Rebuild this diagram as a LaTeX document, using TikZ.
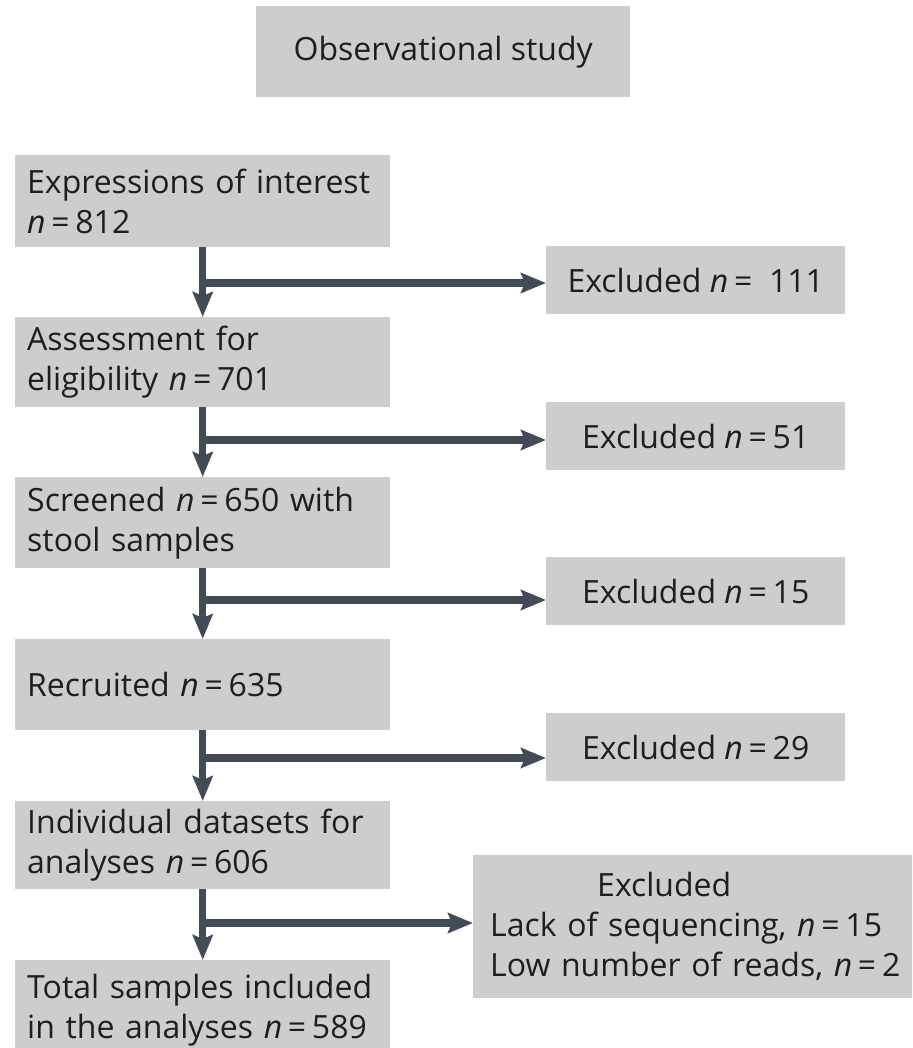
\documentclass[tikz,border=0pt]{standalone}
\usepackage{fontspec}
\setmainfont{Open Sans}
\usetikzlibrary{arrows.meta}
\definecolor{boxgray}{HTML}{CDCDCD}
\definecolor{arrowc}{HTML}{434B57}
\definecolor{textc}{HTML}{1E1E1E}
\newcommand{\eqn}[1]{\textit{n}\hspace{0.18em}=\hspace{0.18em}#1}
\begin{document}
\begin{tikzpicture}[x=1pt,y=-1pt,
  box/.style={fill=boxgray, draw=none, text=textc, font=\fontsize{32}{40}\selectfont,
    inner ysep=0pt, anchor=north west},
  leftbox/.style={box, inner xsep=12pt, text width=351pt, minimum height=#1, align=left},
  exbox/.style={box, inner xsep=0pt, minimum width=299pt, minimum height=68pt, align=center},
  arr/.style={draw=arrowc, line width=7.5pt, -{Stealth[length=25pt,width=20pt,inset=4pt]}}
]
\useasboundingbox (0,0) rectangle (912,1048);
\clip (0,0) rectangle (912,1048);

\node[box, inner xsep=0pt, minimum width=374pt, minimum height=91pt, align=center] (obs) at (256,6) {Observational study};

\node[leftbox=92pt] (b1) at (15,155) {Expressions of interest\\\eqn{812}};
\node[leftbox=90pt] (b2) at (15,317) {Assessment for\\eligibility \eqn{701}};
\node[leftbox=91pt] (b3) at (15,477) {Screened \eqn{650} with\\stool samples};
\node[leftbox=91pt] (b4) at (15,639) {Recruited \eqn{635}};
\node[leftbox=88pt] (b5) at (15,801) {Individual datasets for\\analyses \eqn{606}};
\node[leftbox=100pt] (b6) at (15,960) {Total samples included\\in the analyses \eqn{589}};

\node[exbox] (e1) at (546,246) {Excluded \textit{n}\hspace{0.18em}=\ \ 111};
\node[exbox] (e2) at (546,402) {Excluded \eqn{51}};
\node[exbox] (e3) at (546,557) {Excluded \eqn{15}};
\node[exbox] (e4) at (546,713) {Excluded \eqn{29}};
\node[box, inner xsep=17pt, text width=480pt, minimum height=143pt, align=left] (e5) at (473,855)
  {\hspace*{107pt}Excluded\\Lack of sequencing, \eqn{15}\\Low number of reads, \eqn{2}};

\coordinate (j1) at (202.5,283);
\coordinate (j2) at (202.5,440);
\coordinate (j3) at (202.5,600);
\coordinate (j4) at (202.5,758);
\coordinate (j5) at (202.5,923);

\draw[arr] (b1.south) -- (b2.north);
\draw[arr] (b2.south) -- (b3.north);
\draw[arr] (b3.south) -- (b4.north);
\draw[arr] (b4.south) -- (b5.north);
\draw[arr] (b5.south) -- (b6.north);

\draw[arr] (j1) -- (j1 -| e1.west);
\draw[arr] (j2) -- (j2 -| e2.west);
\draw[arr] (j3) -- (j3 -| e3.west);
\draw[arr] (j4) -- (j4 -| e4.west);
\draw[arr] (j5) -- (j5 -| e5.west);
\end{tikzpicture}
\end{document}
